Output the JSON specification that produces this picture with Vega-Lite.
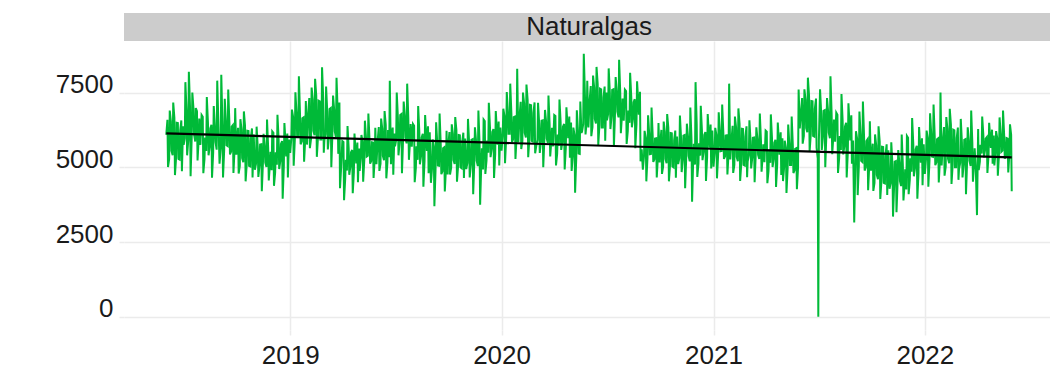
{
  "$schema": "https://vega.github.io/schema/vega-lite/v6.json",
  "background": "white",
  "padding": {"left": 55, "top": 13, "right": 0, "bottom": 0},
  "spacing": 0,
  "config": {
    "view": {"stroke": null},
    "font": "Liberation Sans, sans-serif",
    "axis": {
      "domain": false,
      "tickColor": "#ebebeb",
      "tickSize": 5,
      "tickWidth": 1.5,
      "gridColor": "#ebebeb",
      "gridWidth": 1.5,
      "labelFont": "Liberation Sans, sans-serif",
      "labelFontSize": 26,
      "labelColor": "#1a1a1a",
      "title": null
    },
    "axisX": {"labelPadding": 28, "labelBaseline": "alphabetic"},
    "axisY": {"labelPadding": 6, "labelBaseline": "alphabetic"}
  },
  "datasets": {
    "strip": [{"panel": "Naturalgas"}],
    "trend": [{"d": "2018-06-01", "v": 6137}, {"d": "2022-05-31", "v": 5335}],
    "gas": [
{"d":"2018-06-01","v":6090},{"d":"2018-06-04","v":5010},{"d":"2018-06-07","v":6900},{"d":"2018-06-10","v":5550},{"d":"2018-06-13","v":7170},{"d":"2018-06-16","v":4740},{"d":"2018-06-19","v":6490},{"d":"2018-06-22","v":5280},{"d":"2018-06-25","v":6220},{"d":"2018-06-28","v":4870},
{"d":"2018-07-01","v":5750},{"d":"2018-07-04","v":7850},{"d":"2018-07-07","v":5400},{"d":"2018-07-10","v":8200},{"d":"2018-07-13","v":4700},{"d":"2018-07-16","v":7500},{"d":"2018-07-19","v":6100},{"d":"2018-07-22","v":6980},{"d":"2018-07-25","v":5230},{"d":"2018-07-28","v":6630},
{"d":"2018-08-01","v":6750},{"d":"2018-08-04","v":4800},{"d":"2018-08-07","v":6000},{"d":"2018-08-10","v":7350},{"d":"2018-08-13","v":5400},{"d":"2018-08-16","v":6300},{"d":"2018-08-19","v":4650},{"d":"2018-08-22","v":7050},{"d":"2018-08-25","v":5850},{"d":"2018-08-28","v":7900},
{"d":"2018-09-01","v":5120},{"d":"2018-09-04","v":8100},{"d":"2018-09-07","v":4660},{"d":"2018-09-10","v":7290},{"d":"2018-09-13","v":5740},{"d":"2018-09-16","v":7600},{"d":"2018-09-19","v":5430},{"d":"2018-09-22","v":6360},{"d":"2018-09-25","v":4810},{"d":"2018-09-28","v":6980},
{"d":"2018-10-01","v":5830},{"d":"2018-10-04","v":4790},{"d":"2018-10-07","v":6610},{"d":"2018-10-10","v":5310},{"d":"2018-10-13","v":6870},{"d":"2018-10-16","v":4530},{"d":"2018-10-19","v":6220},{"d":"2018-10-22","v":5050},{"d":"2018-10-25","v":5960},{"d":"2018-10-28","v":4660},
{"d":"2018-11-01","v":4920},{"d":"2018-11-04","v":6360},{"d":"2018-11-07","v":4680},{"d":"2018-11-10","v":5760},{"d":"2018-11-13","v":4200},{"d":"2018-11-16","v":6120},{"d":"2018-11-19","v":5160},{"d":"2018-11-22","v":6600},{"d":"2018-11-25","v":4560},{"d":"2018-11-28","v":5520},
{"d":"2018-12-01","v":6200},{"d":"2018-12-04","v":4380},{"d":"2018-12-07","v":5500},{"d":"2018-12-10","v":6760},{"d":"2018-12-13","v":4940},{"d":"2018-12-16","v":5780},{"d":"2018-12-19","v":3950},{"d":"2018-12-22","v":6480},{"d":"2018-12-25","v":5360},{"d":"2018-12-28","v":4660},
{"d":"2019-01-01","v":5480},{"d":"2019-01-04","v":6930},{"d":"2019-01-07","v":5050},{"d":"2019-01-10","v":7510},{"d":"2019-01-13","v":6060},{"d":"2019-01-16","v":8050},{"d":"2019-01-19","v":5770},{"d":"2019-01-22","v":6640},{"d":"2019-01-25","v":5190},{"d":"2019-01-28","v":7220},
{"d":"2019-02-01","v":6800},{"d":"2019-02-04","v":5640},{"d":"2019-02-07","v":7670},{"d":"2019-02-10","v":6220},{"d":"2019-02-13","v":7960},{"d":"2019-02-16","v":5350},{"d":"2019-02-19","v":7230},{"d":"2019-02-22","v":5930},{"d":"2019-02-25","v":8350},{"d":"2019-02-28","v":5490},
{"d":"2019-03-01","v":5900},{"d":"2019-03-04","v":7700},{"d":"2019-03-07","v":5600},{"d":"2019-03-10","v":6950},{"d":"2019-03-13","v":5000},{"d":"2019-03-16","v":7400},{"d":"2019-03-19","v":6200},{"d":"2019-03-22","v":8000},{"d":"2019-03-25","v":5450},{"d":"2019-03-28","v":4300},
{"d":"2019-04-01","v":5880},{"d":"2019-04-04","v":3900},{"d":"2019-04-07","v":5250},{"d":"2019-04-10","v":6380},{"d":"2019-04-13","v":4750},{"d":"2019-04-16","v":5500},{"d":"2019-04-19","v":4130},{"d":"2019-04-22","v":6130},{"d":"2019-04-25","v":5130},{"d":"2019-04-28","v":4500},
{"d":"2019-05-01","v":4880},{"d":"2019-05-04","v":6080},{"d":"2019-05-07","v":4520},{"d":"2019-05-10","v":6560},{"d":"2019-05-13","v":5360},{"d":"2019-05-16","v":6800},{"d":"2019-05-19","v":5120},{"d":"2019-05-22","v":5840},{"d":"2019-05-25","v":4640},{"d":"2019-05-28","v":6320},
{"d":"2019-06-01","v":5880},{"d":"2019-06-04","v":4880},{"d":"2019-06-07","v":6630},{"d":"2019-06-10","v":5380},{"d":"2019-06-13","v":6880},{"d":"2019-06-16","v":4630},{"d":"2019-06-19","v":6250},{"d":"2019-06-22","v":7900},{"d":"2019-06-25","v":6000},{"d":"2019-06-28","v":4750},
{"d":"2019-07-01","v":5700},{"d":"2019-07-04","v":7500},{"d":"2019-07-07","v":5400},{"d":"2019-07-10","v":6750},{"d":"2019-07-13","v":4800},{"d":"2019-07-16","v":7200},{"d":"2019-07-19","v":6000},{"d":"2019-07-22","v":7800},{"d":"2019-07-25","v":5250},{"d":"2019-07-28","v":6450},
{"d":"2019-08-01","v":6450},{"d":"2019-08-04","v":4500},{"d":"2019-08-07","v":5700},{"d":"2019-08-10","v":7050},{"d":"2019-08-13","v":5100},{"d":"2019-08-16","v":6000},{"d":"2019-08-19","v":4350},{"d":"2019-08-22","v":6750},{"d":"2019-08-25","v":5550},{"d":"2019-08-28","v":4800},
{"d":"2019-09-01","v":4480},{"d":"2019-09-04","v":5930},{"d":"2019-09-07","v":3700},{"d":"2019-09-10","v":6510},{"d":"2019-09-13","v":5060},{"d":"2019-09-16","v":6800},{"d":"2019-09-19","v":4770},{"d":"2019-09-22","v":5640},{"d":"2019-09-25","v":4190},{"d":"2019-09-28","v":6220},
{"d":"2019-10-01","v":5720},{"d":"2019-10-04","v":4760},{"d":"2019-10-07","v":6440},{"d":"2019-10-10","v":5240},{"d":"2019-10-13","v":6680},{"d":"2019-10-16","v":4520},{"d":"2019-10-19","v":6080},{"d":"2019-10-22","v":5000},{"d":"2019-10-25","v":5840},{"d":"2019-10-28","v":4640},
{"d":"2019-11-01","v":4940},{"d":"2019-11-04","v":6620},{"d":"2019-11-07","v":4660},{"d":"2019-11-10","v":5920},{"d":"2019-11-13","v":4100},{"d":"2019-11-16","v":6340},{"d":"2019-11-19","v":5220},{"d":"2019-11-22","v":6900},{"d":"2019-11-25","v":3750},{"d":"2019-11-28","v":5640},
{"d":"2019-12-01","v":6600},{"d":"2019-12-04","v":4780},{"d":"2019-12-07","v":5900},{"d":"2019-12-10","v":7160},{"d":"2019-12-13","v":5340},{"d":"2019-12-16","v":6180},{"d":"2019-12-19","v":4640},{"d":"2019-12-22","v":6880},{"d":"2019-12-25","v":5760},{"d":"2019-12-28","v":5060},
{"d":"2020-01-01","v":5560},{"d":"2020-01-04","v":6960},{"d":"2020-01-07","v":5140},{"d":"2020-01-10","v":7520},{"d":"2020-01-13","v":6120},{"d":"2020-01-16","v":7800},{"d":"2020-01-19","v":5840},{"d":"2020-01-22","v":6680},{"d":"2020-01-25","v":5280},{"d":"2020-01-28","v":8300},
{"d":"2020-02-01","v":6690},{"d":"2020-02-04","v":5610},{"d":"2020-02-07","v":7500},{"d":"2020-02-10","v":6150},{"d":"2020-02-13","v":7770},{"d":"2020-02-16","v":5340},{"d":"2020-02-19","v":7090},{"d":"2020-02-22","v":5880},{"d":"2020-02-25","v":6820},{"d":"2020-02-28","v":5470},
{"d":"2020-03-01","v":5720},{"d":"2020-03-04","v":7160},{"d":"2020-03-07","v":5480},{"d":"2020-03-10","v":6560},{"d":"2020-03-13","v":5000},{"d":"2020-03-16","v":6920},{"d":"2020-03-19","v":5960},{"d":"2020-03-22","v":7400},{"d":"2020-03-25","v":5360},{"d":"2020-03-28","v":6320},
{"d":"2020-04-01","v":6750},{"d":"2020-04-04","v":5060},{"d":"2020-04-07","v":6100},{"d":"2020-04-10","v":7270},{"d":"2020-04-13","v":5580},{"d":"2020-04-16","v":6360},{"d":"2020-04-19","v":4930},{"d":"2020-04-22","v":7010},{"d":"2020-04-25","v":5970},{"d":"2020-04-28","v":5320},
{"d":"2020-05-01","v":4880},{"d":"2020-05-04","v":6330},{"d":"2020-05-07","v":4150},{"d":"2020-05-10","v":6910},{"d":"2020-05-13","v":5460},{"d":"2020-05-16","v":7200},{"d":"2020-05-19","v":6200},{"d":"2020-05-22","v":8800},{"d":"2020-05-25","v":6100},{"d":"2020-05-28","v":7900},
{"d":"2020-06-01","v":7200},{"d":"2020-06-04","v":6040},{"d":"2020-06-07","v":8070},{"d":"2020-06-10","v":6620},{"d":"2020-06-13","v":8360},{"d":"2020-06-16","v":5750},{"d":"2020-06-19","v":7630},{"d":"2020-06-22","v":6330},{"d":"2020-06-25","v":7340},{"d":"2020-06-28","v":5890},
{"d":"2020-07-01","v":6570},{"d":"2020-07-04","v":8310},{"d":"2020-07-07","v":6280},{"d":"2020-07-10","v":7590},{"d":"2020-07-13","v":5700},{"d":"2020-07-16","v":8020},{"d":"2020-07-19","v":6860},{"d":"2020-07-22","v":8600},{"d":"2020-07-25","v":6140},{"d":"2020-07-28","v":7300},
{"d":"2020-08-01","v":7600},{"d":"2020-08-04","v":5780},{"d":"2020-08-07","v":6900},{"d":"2020-08-10","v":8160},{"d":"2020-08-13","v":6340},{"d":"2020-08-16","v":7180},{"d":"2020-08-19","v":5640},{"d":"2020-08-22","v":7880},{"d":"2020-08-25","v":6760},{"d":"2020-08-28","v":5200},
{"d":"2020-09-01","v":4920},{"d":"2020-09-04","v":6220},{"d":"2020-09-07","v":4530},{"d":"2020-09-10","v":6740},{"d":"2020-09-13","v":5440},{"d":"2020-09-16","v":7000},{"d":"2020-09-19","v":5180},{"d":"2020-09-22","v":5960},{"d":"2020-09-25","v":4660},{"d":"2020-09-28","v":6480},
{"d":"2020-10-01","v":5780},{"d":"2020-10-04","v":4780},{"d":"2020-10-07","v":6530},{"d":"2020-10-10","v":5280},{"d":"2020-10-13","v":6780},{"d":"2020-10-16","v":4530},{"d":"2020-10-19","v":6150},{"d":"2020-10-22","v":5030},{"d":"2020-10-25","v":5900},{"d":"2020-10-28","v":4650},
{"d":"2020-11-01","v":5110},{"d":"2020-11-04","v":6730},{"d":"2020-11-07","v":4840},{"d":"2020-11-10","v":6060},{"d":"2020-11-13","v":4300},{"d":"2020-11-16","v":6460},{"d":"2020-11-19","v":5380},{"d":"2020-11-22","v":7000},{"d":"2020-11-25","v":3850},{"d":"2020-11-28","v":5790},
{"d":"2020-12-01","v":7850},{"d":"2020-12-04","v":4680},{"d":"2020-12-07","v":5800},{"d":"2020-12-10","v":7060},{"d":"2020-12-13","v":5240},{"d":"2020-12-16","v":6080},{"d":"2020-12-19","v":4540},{"d":"2020-12-22","v":6780},{"d":"2020-12-25","v":5660},{"d":"2020-12-28","v":4960},
{"d":"2021-01-01","v":5020},{"d":"2021-01-04","v":6320},{"d":"2021-01-07","v":4630},{"d":"2021-01-10","v":6840},{"d":"2021-01-13","v":5540},{"d":"2021-01-16","v":7100},{"d":"2021-01-19","v":5280},{"d":"2021-01-22","v":6060},{"d":"2021-01-25","v":4760},{"d":"2021-01-28","v":7800},
{"d":"2021-02-01","v":5890},{"d":"2021-02-04","v":4810},{"d":"2021-02-07","v":6700},{"d":"2021-02-10","v":5350},{"d":"2021-02-13","v":6970},{"d":"2021-02-16","v":4540},{"d":"2021-02-19","v":6290},{"d":"2021-02-22","v":5080},{"d":"2021-02-25","v":6020},{"d":"2021-02-28","v":4670},
{"d":"2021-03-01","v":5190},{"d":"2021-03-04","v":6570},{"d":"2021-03-07","v":4960},{"d":"2021-03-10","v":5990},{"d":"2021-03-13","v":4500},{"d":"2021-03-16","v":6340},{"d":"2021-03-19","v":5420},{"d":"2021-03-22","v":6800},{"d":"2021-03-25","v":4850},{"d":"2021-03-28","v":5770},
{"d":"2021-04-01","v":6230},{"d":"2021-04-04","v":4470},{"d":"2021-04-07","v":5550},{"d":"2021-04-10","v":6770},{"d":"2021-04-13","v":5010},{"d":"2021-04-16","v":5820},{"d":"2021-04-19","v":4340},{"d":"2021-04-22","v":6500},{"d":"2021-04-25","v":5420},{"d":"2021-04-28","v":4740},
{"d":"2021-05-01","v":4540},{"d":"2021-05-04","v":5890},{"d":"2021-05-07","v":4140},{"d":"2021-05-10","v":6430},{"d":"2021-05-13","v":5080},{"d":"2021-05-16","v":6700},{"d":"2021-05-19","v":4810},{"d":"2021-05-22","v":5620},{"d":"2021-05-25","v":4270},{"d":"2021-05-28","v":7600},
{"d":"2021-06-01","v":6830},{"d":"2021-06-04","v":5790},{"d":"2021-06-07","v":7610},{"d":"2021-06-10","v":6310},{"d":"2021-06-13","v":8000},{"d":"2021-06-16","v":5530},{"d":"2021-06-19","v":7220},{"d":"2021-06-22","v":6050},{"d":"2021-06-25","v":6960},{"d":"2021-06-28","v":5660},{"d":"2021-06-30","v":5300},
{"d":"2021-07-01","v":0},{"d":"2021-07-02","v":5900},{"d":"2021-07-04","v":7610},{"d":"2021-07-07","v":5580},{"d":"2021-07-10","v":6890},{"d":"2021-07-13","v":5000},{"d":"2021-07-16","v":7320},{"d":"2021-07-19","v":6160},{"d":"2021-07-22","v":8050},{"d":"2021-07-25","v":5440},{"d":"2021-07-28","v":6600},
{"d":"2021-08-01","v":6830},{"d":"2021-08-04","v":4810},{"d":"2021-08-07","v":6050},{"d":"2021-08-10","v":7450},{"d":"2021-08-13","v":5430},{"d":"2021-08-16","v":6360},{"d":"2021-08-19","v":4660},{"d":"2021-08-22","v":7140},{"d":"2021-08-25","v":5900},{"d":"2021-08-28","v":5120},
{"d":"2021-09-01","v":3150},{"d":"2021-09-04","v":6210},{"d":"2021-09-07","v":4070},{"d":"2021-09-10","v":6870},{"d":"2021-09-13","v":5220},{"d":"2021-09-16","v":7200},{"d":"2021-09-19","v":4890},{"d":"2021-09-22","v":5880},{"d":"2021-09-25","v":4230},{"d":"2021-09-28","v":6540},
{"d":"2021-10-01","v":5290},{"d":"2021-10-04","v":4210},{"d":"2021-10-07","v":6100},{"d":"2021-10-10","v":4750},{"d":"2021-10-13","v":6370},{"d":"2021-10-16","v":3940},{"d":"2021-10-19","v":5690},{"d":"2021-10-22","v":4480},{"d":"2021-10-25","v":5420},{"d":"2021-10-28","v":4070},
{"d":"2021-11-01","v":4280},{"d":"2021-11-04","v":5840},{"d":"2021-11-07","v":3350},{"d":"2021-11-10","v":5190},{"d":"2021-11-13","v":3500},{"d":"2021-11-16","v":5580},{"d":"2021-11-19","v":4540},{"d":"2021-11-22","v":6100},{"d":"2021-11-25","v":3890},{"d":"2021-11-28","v":4930},
{"d":"2021-12-01","v":6050},{"d":"2021-12-04","v":4100},{"d":"2021-12-07","v":5300},{"d":"2021-12-10","v":6650},{"d":"2021-12-13","v":4700},{"d":"2021-12-16","v":5600},{"d":"2021-12-19","v":3950},{"d":"2021-12-22","v":6350},{"d":"2021-12-25","v":5150},{"d":"2021-12-28","v":4400},
{"d":"2022-01-01","v":4780},{"d":"2022-01-04","v":6230},{"d":"2022-01-07","v":4350},{"d":"2022-01-10","v":6810},{"d":"2022-01-13","v":5360},{"d":"2022-01-16","v":7100},{"d":"2022-01-19","v":5070},{"d":"2022-01-22","v":5940},{"d":"2022-01-25","v":4490},{"d":"2022-01-28","v":7500},
{"d":"2022-02-01","v":5840},{"d":"2022-02-04","v":4720},{"d":"2022-02-07","v":6680},{"d":"2022-02-10","v":5280},{"d":"2022-02-13","v":6960},{"d":"2022-02-16","v":4440},{"d":"2022-02-19","v":6260},{"d":"2022-02-22","v":5000},{"d":"2022-02-25","v":5980},{"d":"2022-02-28","v":4580},
{"d":"2022-03-01","v":4940},{"d":"2022-03-04","v":6620},{"d":"2022-03-07","v":4660},{"d":"2022-03-10","v":5920},{"d":"2022-03-13","v":4100},{"d":"2022-03-16","v":6340},{"d":"2022-03-19","v":5220},{"d":"2022-03-22","v":6900},{"d":"2022-03-25","v":4520},{"d":"2022-03-28","v":5640},
{"d":"2022-04-01","v":3400},{"d":"2022-04-04","v":4910},{"d":"2022-04-07","v":5750},{"d":"2022-04-10","v":6700},{"d":"2022-04-13","v":5330},{"d":"2022-04-16","v":5960},{"d":"2022-04-19","v":4810},{"d":"2022-04-22","v":6490},{"d":"2022-04-25","v":5650},{"d":"2022-04-28","v":5120},
{"d":"2022-05-01","v":5060},{"d":"2022-05-04","v":6210},{"d":"2022-05-07","v":4720},{"d":"2022-05-10","v":6670},{"d":"2022-05-13","v":5520},{"d":"2022-05-16","v":6900},{"d":"2022-05-19","v":5290},{"d":"2022-05-22","v":5980},{"d":"2022-05-25","v":4830},{"d":"2022-05-28","v":6440},{"d":"2022-05-31","v":4200},
{"d":"2018-06-03","v":6590},{"d":"2018-06-06","v":5280},{"d":"2018-06-09","v":6530},{"d":"2018-06-12","v":5400},{"d":"2018-06-15","v":6660},{"d":"2018-06-18","v":5340},{"d":"2018-06-21","v":6480},{"d":"2018-06-24","v":5260},{"d":"2018-06-27","v":6570},{"d":"2018-06-30","v":6370},
{"d":"2018-07-03","v":5970},{"d":"2018-07-06","v":6900},{"d":"2018-07-09","v":5910},{"d":"2018-07-12","v":7020},{"d":"2018-07-15","v":6040},{"d":"2018-07-18","v":6960},{"d":"2018-07-21","v":5860},{"d":"2018-07-24","v":6880},{"d":"2018-07-27","v":5950},{"d":"2018-07-30","v":5750},
{"d":"2018-08-03","v":6690},{"d":"2018-08-06","v":5280},{"d":"2018-08-09","v":5550},{"d":"2018-08-12","v":6480},{"d":"2018-08-15","v":5680},{"d":"2018-08-18","v":6420},{"d":"2018-08-21","v":5500},{"d":"2018-08-24","v":6340},{"d":"2018-08-27","v":5590},{"d":"2018-08-30","v":6470},
{"d":"2018-09-03","v":5640},{"d":"2018-09-06","v":6430},{"d":"2018-09-09","v":5580},{"d":"2018-09-12","v":6550},{"d":"2018-09-15","v":5710},{"d":"2018-09-18","v":6490},{"d":"2018-09-21","v":5530},{"d":"2018-09-24","v":6410},{"d":"2018-09-27","v":5620},{"d":"2018-09-30","v":5420},
{"d":"2018-10-03","v":6320},{"d":"2018-10-06","v":5050},{"d":"2018-10-09","v":6260},{"d":"2018-10-12","v":5170},{"d":"2018-10-15","v":6390},{"d":"2018-10-18","v":5110},{"d":"2018-10-21","v":6210},{"d":"2018-10-24","v":5030},{"d":"2018-10-27","v":6300},{"d":"2018-10-30","v":6100},
{"d":"2018-11-03","v":5120},{"d":"2018-11-06","v":5650},{"d":"2018-11-09","v":5060},{"d":"2018-11-12","v":5770},{"d":"2018-11-15","v":5190},{"d":"2018-11-18","v":5710},{"d":"2018-11-21","v":5010},{"d":"2018-11-24","v":5630},{"d":"2018-11-27","v":5100},{"d":"2018-11-30","v":4900},
{"d":"2018-12-03","v":6150},{"d":"2018-12-06","v":4820},{"d":"2018-12-09","v":5090},{"d":"2018-12-12","v":5940},{"d":"2018-12-15","v":5220},{"d":"2018-12-18","v":5880},{"d":"2018-12-21","v":5040},{"d":"2018-12-24","v":5800},{"d":"2018-12-27","v":6130},{"d":"2018-12-30","v":5930},
{"d":"2019-01-03","v":5980},{"d":"2019-01-06","v":6690},{"d":"2019-01-09","v":5920},{"d":"2019-01-12","v":6810},{"d":"2019-01-15","v":6050},{"d":"2019-01-18","v":6750},{"d":"2019-01-21","v":5870},{"d":"2019-01-24","v":6670},{"d":"2019-01-27","v":5960},{"d":"2019-01-30","v":5760},
{"d":"2019-02-03","v":7320},{"d":"2019-02-06","v":5950},{"d":"2019-02-09","v":7260},{"d":"2019-02-12","v":6070},{"d":"2019-02-15","v":7390},{"d":"2019-02-18","v":6010},{"d":"2019-02-21","v":7210},{"d":"2019-02-24","v":5930},{"d":"2019-02-27","v":7300},
{"d":"2019-03-03","v":6110},{"d":"2019-03-06","v":6860},{"d":"2019-03-09","v":6050},{"d":"2019-03-12","v":6980},{"d":"2019-03-15","v":6180},{"d":"2019-03-18","v":6920},{"d":"2019-03-21","v":6000},{"d":"2019-03-24","v":6840},{"d":"2019-03-27","v":7170},{"d":"2019-03-30","v":5000},
{"d":"2019-04-03","v":5850},{"d":"2019-04-06","v":4620},{"d":"2019-04-09","v":4890},{"d":"2019-04-12","v":5640},{"d":"2019-04-15","v":5020},{"d":"2019-04-18","v":5580},{"d":"2019-04-21","v":4840},{"d":"2019-04-24","v":5500},{"d":"2019-04-27","v":5830},{"d":"2019-04-30","v":5630},
{"d":"2019-05-03","v":5320},{"d":"2019-05-06","v":5850},{"d":"2019-05-09","v":5260},{"d":"2019-05-12","v":5970},{"d":"2019-05-15","v":5390},{"d":"2019-05-18","v":5910},{"d":"2019-05-21","v":5210},{"d":"2019-05-24","v":5830},{"d":"2019-05-27","v":5300},{"d":"2019-05-30","v":5100},
{"d":"2019-06-03","v":6350},{"d":"2019-06-06","v":5120},{"d":"2019-06-09","v":6290},{"d":"2019-06-12","v":5240},{"d":"2019-06-15","v":6420},{"d":"2019-06-18","v":5180},{"d":"2019-06-21","v":5340},{"d":"2019-06-24","v":5100},{"d":"2019-06-27","v":6330},{"d":"2019-06-30","v":6130},
{"d":"2019-07-03","v":5910},{"d":"2019-07-06","v":6660},{"d":"2019-07-09","v":5850},{"d":"2019-07-12","v":6780},{"d":"2019-07-15","v":5980},{"d":"2019-07-18","v":6720},{"d":"2019-07-21","v":5800},{"d":"2019-07-24","v":6640},{"d":"2019-07-27","v":5890},{"d":"2019-07-30","v":5690},
{"d":"2019-08-03","v":6390},{"d":"2019-08-06","v":4980},{"d":"2019-08-09","v":5250},{"d":"2019-08-12","v":6180},{"d":"2019-08-15","v":5380},{"d":"2019-08-18","v":6120},{"d":"2019-08-21","v":5200},{"d":"2019-08-24","v":6040},{"d":"2019-08-27","v":6370},{"d":"2019-08-30","v":6170},
{"d":"2019-09-03","v":4980},{"d":"2019-09-06","v":5690},{"d":"2019-09-09","v":4920},{"d":"2019-09-12","v":5810},{"d":"2019-09-15","v":5050},{"d":"2019-09-18","v":5750},{"d":"2019-09-21","v":4870},{"d":"2019-09-24","v":5670},{"d":"2019-09-27","v":4960},{"d":"2019-09-30","v":4760},
{"d":"2019-10-03","v":6180},{"d":"2019-10-06","v":4990},{"d":"2019-10-09","v":6120},{"d":"2019-10-12","v":5110},{"d":"2019-10-15","v":6250},{"d":"2019-10-18","v":5050},{"d":"2019-10-21","v":6070},{"d":"2019-10-24","v":4970},{"d":"2019-10-27","v":6160},{"d":"2019-10-30","v":5960},
{"d":"2019-11-03","v":5150},{"d":"2019-11-06","v":5820},{"d":"2019-11-09","v":5090},{"d":"2019-11-12","v":5940},{"d":"2019-11-15","v":5220},{"d":"2019-11-18","v":5880},{"d":"2019-11-21","v":5040},{"d":"2019-11-24","v":5800},{"d":"2019-11-27","v":5130},{"d":"2019-11-30","v":4930},
{"d":"2019-12-03","v":6550},{"d":"2019-12-06","v":5220},{"d":"2019-12-09","v":5490},{"d":"2019-12-12","v":6340},{"d":"2019-12-15","v":5620},{"d":"2019-12-18","v":6280},{"d":"2019-12-21","v":5440},{"d":"2019-12-24","v":6200},{"d":"2019-12-27","v":6530},{"d":"2019-12-30","v":6330},
{"d":"2020-01-03","v":6050},{"d":"2020-01-06","v":6720},{"d":"2020-01-09","v":5990},{"d":"2020-01-12","v":6840},{"d":"2020-01-15","v":6120},{"d":"2020-01-18","v":6780},{"d":"2020-01-21","v":5940},{"d":"2020-01-24","v":6700},{"d":"2020-01-27","v":6030},{"d":"2020-01-30","v":5830},
{"d":"2020-02-03","v":7190},{"d":"2020-02-06","v":5880},{"d":"2020-02-09","v":7130},{"d":"2020-02-12","v":6000},{"d":"2020-02-15","v":7260},{"d":"2020-02-18","v":5940},{"d":"2020-02-21","v":7080},{"d":"2020-02-24","v":5860},{"d":"2020-02-27","v":7170},
{"d":"2020-03-03","v":5920},{"d":"2020-03-06","v":6450},{"d":"2020-03-09","v":5860},{"d":"2020-03-12","v":6570},{"d":"2020-03-15","v":5990},{"d":"2020-03-18","v":6510},{"d":"2020-03-21","v":5810},{"d":"2020-03-24","v":6430},{"d":"2020-03-27","v":5900},{"d":"2020-03-30","v":5700},
{"d":"2020-04-03","v":6720},{"d":"2020-04-06","v":5450},{"d":"2020-04-09","v":5720},{"d":"2020-04-12","v":6510},{"d":"2020-04-15","v":5850},{"d":"2020-04-18","v":6450},{"d":"2020-04-21","v":5670},{"d":"2020-04-24","v":6370},{"d":"2020-04-27","v":6700},{"d":"2020-04-30","v":6500},
{"d":"2020-05-03","v":5380},{"d":"2020-05-06","v":6090},{"d":"2020-05-09","v":5320},{"d":"2020-05-12","v":6210},{"d":"2020-05-15","v":5450},{"d":"2020-05-18","v":6150},{"d":"2020-05-21","v":6440},{"d":"2020-05-24","v":7400},{"d":"2020-05-27","v":6530},{"d":"2020-05-30","v":6330},
{"d":"2020-06-03","v":7720},{"d":"2020-06-06","v":6350},{"d":"2020-06-09","v":7660},{"d":"2020-06-12","v":6470},{"d":"2020-06-15","v":7790},{"d":"2020-06-18","v":6410},{"d":"2020-06-21","v":7610},{"d":"2020-06-24","v":6330},{"d":"2020-06-27","v":7700},{"d":"2020-06-30","v":7500},
{"d":"2020-07-03","v":6780},{"d":"2020-07-06","v":7490},{"d":"2020-07-09","v":6720},{"d":"2020-07-12","v":7610},{"d":"2020-07-15","v":6850},{"d":"2020-07-18","v":7550},{"d":"2020-07-21","v":6670},{"d":"2020-07-24","v":7470},{"d":"2020-07-27","v":6760},{"d":"2020-07-30","v":6560},
{"d":"2020-08-03","v":7550},{"d":"2020-08-06","v":6220},{"d":"2020-08-09","v":6490},{"d":"2020-08-12","v":7340},{"d":"2020-08-15","v":6620},{"d":"2020-08-18","v":7280},{"d":"2020-08-21","v":6440},{"d":"2020-08-24","v":7200},{"d":"2020-08-27","v":7530},{"d":"2020-08-30","v":5600},
{"d":"2020-09-03","v":5380},{"d":"2020-09-06","v":5990},{"d":"2020-09-09","v":5320},{"d":"2020-09-12","v":6110},{"d":"2020-09-15","v":5450},{"d":"2020-09-18","v":6050},{"d":"2020-09-21","v":5270},{"d":"2020-09-24","v":5970},{"d":"2020-09-27","v":5360},{"d":"2020-09-30","v":5160},
{"d":"2020-10-03","v":6250},{"d":"2020-10-06","v":5020},{"d":"2020-10-09","v":6190},{"d":"2020-10-12","v":5140},{"d":"2020-10-15","v":6320},{"d":"2020-10-18","v":5080},{"d":"2020-10-21","v":6140},{"d":"2020-10-24","v":5000},{"d":"2020-10-27","v":6230},{"d":"2020-10-30","v":6030},
{"d":"2020-11-03","v":5310},{"d":"2020-11-06","v":5960},{"d":"2020-11-09","v":5250},{"d":"2020-11-12","v":6080},{"d":"2020-11-15","v":5380},{"d":"2020-11-18","v":6020},{"d":"2020-11-21","v":5200},{"d":"2020-11-24","v":5940},{"d":"2020-11-27","v":5290},{"d":"2020-11-30","v":5090},
{"d":"2020-12-03","v":6450},{"d":"2020-12-06","v":5120},{"d":"2020-12-09","v":5390},{"d":"2020-12-12","v":6240},{"d":"2020-12-15","v":5520},{"d":"2020-12-18","v":6180},{"d":"2020-12-21","v":5340},{"d":"2020-12-24","v":6100},{"d":"2020-12-27","v":6430},{"d":"2020-12-30","v":6230},
{"d":"2021-01-03","v":5480},{"d":"2021-01-06","v":6090},{"d":"2021-01-09","v":5420},{"d":"2021-01-12","v":6210},{"d":"2021-01-15","v":5550},{"d":"2021-01-18","v":6150},{"d":"2021-01-21","v":5370},{"d":"2021-01-24","v":6070},{"d":"2021-01-27","v":5460},{"d":"2021-01-30","v":5260},
{"d":"2021-02-03","v":6390},{"d":"2021-02-06","v":5080},{"d":"2021-02-09","v":6330},{"d":"2021-02-12","v":5200},{"d":"2021-02-15","v":6460},{"d":"2021-02-18","v":5140},{"d":"2021-02-21","v":6280},{"d":"2021-02-24","v":5060},{"d":"2021-02-27","v":6370},
{"d":"2021-03-03","v":5390},{"d":"2021-03-06","v":5880},{"d":"2021-03-09","v":5330},{"d":"2021-03-12","v":6000},{"d":"2021-03-15","v":5460},{"d":"2021-03-18","v":5940},{"d":"2021-03-21","v":5280},{"d":"2021-03-24","v":5860},{"d":"2021-03-27","v":5370},{"d":"2021-03-30","v":5170},
{"d":"2021-04-03","v":6190},{"d":"2021-04-06","v":4880},{"d":"2021-04-09","v":5150},{"d":"2021-04-12","v":5980},{"d":"2021-04-15","v":5280},{"d":"2021-04-18","v":5920},{"d":"2021-04-21","v":5100},{"d":"2021-04-24","v":5840},{"d":"2021-04-27","v":6170},{"d":"2021-04-30","v":5970},
{"d":"2021-05-03","v":5010},{"d":"2021-05-06","v":5660},{"d":"2021-05-09","v":4950},{"d":"2021-05-12","v":5780},{"d":"2021-05-15","v":5080},{"d":"2021-05-18","v":5720},{"d":"2021-05-21","v":4900},{"d":"2021-05-24","v":5640},{"d":"2021-05-27","v":4990},{"d":"2021-05-30","v":6300},
{"d":"2021-06-03","v":7320},{"d":"2021-06-06","v":6050},{"d":"2021-06-09","v":7260},{"d":"2021-06-12","v":6170},{"d":"2021-06-15","v":7390},{"d":"2021-06-18","v":6110},{"d":"2021-06-21","v":7210},{"d":"2021-06-24","v":6030},{"d":"2021-06-27","v":7300},
{"d":"2021-07-06","v":6790},{"d":"2021-07-09","v":6020},{"d":"2021-07-12","v":6910},{"d":"2021-07-15","v":6150},{"d":"2021-07-18","v":6850},{"d":"2021-07-21","v":5970},{"d":"2021-07-24","v":6770},{"d":"2021-07-27","v":6060},{"d":"2021-07-30","v":5860},
{"d":"2021-08-03","v":6760},{"d":"2021-08-06","v":5310},{"d":"2021-08-09","v":5580},{"d":"2021-08-12","v":6550},{"d":"2021-08-15","v":5710},{"d":"2021-08-18","v":6490},{"d":"2021-08-21","v":5530},{"d":"2021-08-24","v":6410},{"d":"2021-08-27","v":6740},{"d":"2021-08-30","v":5900},
{"d":"2021-09-03","v":5110},{"d":"2021-09-06","v":5960},{"d":"2021-09-09","v":5050},{"d":"2021-09-12","v":6080},{"d":"2021-09-15","v":5180},{"d":"2021-09-18","v":6020},{"d":"2021-09-21","v":5000},{"d":"2021-09-24","v":5940},{"d":"2021-09-27","v":5090},{"d":"2021-09-30","v":4890},
{"d":"2021-10-03","v":5790},{"d":"2021-10-06","v":4480},{"d":"2021-10-09","v":5730},{"d":"2021-10-12","v":4600},{"d":"2021-10-15","v":5860},{"d":"2021-10-18","v":4540},{"d":"2021-10-21","v":5680},{"d":"2021-10-24","v":4460},{"d":"2021-10-27","v":5770},{"d":"2021-10-30","v":5570},
{"d":"2021-11-03","v":4480},{"d":"2021-11-06","v":5090},{"d":"2021-11-09","v":4420},{"d":"2021-11-12","v":5210},{"d":"2021-11-15","v":4550},{"d":"2021-11-18","v":5150},{"d":"2021-11-21","v":4370},{"d":"2021-11-24","v":5070},{"d":"2021-11-27","v":4460},{"d":"2021-11-30","v":4260},
{"d":"2021-12-03","v":5990},{"d":"2021-12-06","v":4580},{"d":"2021-12-09","v":4850},{"d":"2021-12-12","v":5780},{"d":"2021-12-15","v":4980},{"d":"2021-12-18","v":5720},{"d":"2021-12-21","v":4800},{"d":"2021-12-24","v":5640},{"d":"2021-12-27","v":5970},{"d":"2021-12-30","v":5770},
{"d":"2022-01-03","v":5280},{"d":"2022-01-06","v":5990},{"d":"2022-01-09","v":5220},{"d":"2022-01-12","v":6110},{"d":"2022-01-15","v":5350},{"d":"2022-01-18","v":6050},{"d":"2022-01-21","v":5170},{"d":"2022-01-24","v":5970},{"d":"2022-01-27","v":5260},{"d":"2022-01-30","v":5060},
{"d":"2022-02-03","v":6350},{"d":"2022-02-06","v":5020},{"d":"2022-02-09","v":6290},{"d":"2022-02-12","v":5140},{"d":"2022-02-15","v":6420},{"d":"2022-02-18","v":5080},{"d":"2022-02-21","v":6240},{"d":"2022-02-24","v":5000},{"d":"2022-02-27","v":6330},
{"d":"2022-03-03","v":5150},{"d":"2022-03-06","v":5820},{"d":"2022-03-09","v":5090},{"d":"2022-03-12","v":5940},{"d":"2022-03-15","v":5220},{"d":"2022-03-18","v":5880},{"d":"2022-03-21","v":5040},{"d":"2022-03-24","v":5800},{"d":"2022-03-27","v":5130},{"d":"2022-03-30","v":4930},
{"d":"2022-04-03","v":6280},{"d":"2022-04-06","v":5190},{"d":"2022-04-09","v":5460},{"d":"2022-04-12","v":6070},{"d":"2022-04-15","v":5590},{"d":"2022-04-18","v":6010},{"d":"2022-04-21","v":5410},{"d":"2022-04-24","v":5930},{"d":"2022-04-27","v":6260},{"d":"2022-04-30","v":6060},
{"d":"2022-05-03","v":5490},{"d":"2022-05-06","v":5980},{"d":"2022-05-09","v":5430},{"d":"2022-05-12","v":6100},{"d":"2022-05-15","v":5560},{"d":"2022-05-18","v":6040},{"d":"2022-05-21","v":5380},{"d":"2022-05-24","v":5960},{"d":"2022-05-27","v":5470},{"d":"2022-05-30","v":6090}
    ]
  },
  "vconcat": [
    {
      "width": 930,
      "height": 28,
      "data": {"name": "strip"},
      "view": {"fill": "#cccccc", "stroke": null},
      "mark": {"type": "text", "fontSize": 26, "font": "Liberation Sans, sans-serif", "color": "#1a1a1a", "baseline": "middle", "align": "center"},
      "encoding": {"text": {"field": "panel", "type": "nominal"}}
    },
    {
      "width": 930,
      "height": 289,
      "encoding": {
        "x": {
          "field": "d",
          "type": "temporal",
          "scale": {"type": "utc", "domain": [{"year": 2018, "month": 3, "date": 20, "utc": true}, {"year": 2022, "month": 8, "date": 12, "utc": true}]},
          "axis": {"format": "%Y", "values": [{"year": 2019, "month": 1, "date": 1, "utc": true}, {"year": 2020, "month": 1, "date": 1, "utc": true}, {"year": 2021, "month": 1, "date": 1, "utc": true}, {"year": 2022, "month": 1, "date": 1, "utc": true}]}
        },
        "y": {
          "field": "v",
          "type": "quantitative",
          "scale": {"domain": [-445, 9227], "nice": false, "zero": false},
          "axis": {"values": [0, 2500, 5000, 7500], "format": "d"}
        }
      },
      "layer": [
        {"data": {"name": "gas"}, "mark": {"type": "line", "color": "#00BA38", "strokeWidth": 2}},
        {"data": {"name": "trend"}, "mark": {"type": "line", "color": "#000000", "strokeWidth": 2.2}}
      ]
    }
  ]
}
